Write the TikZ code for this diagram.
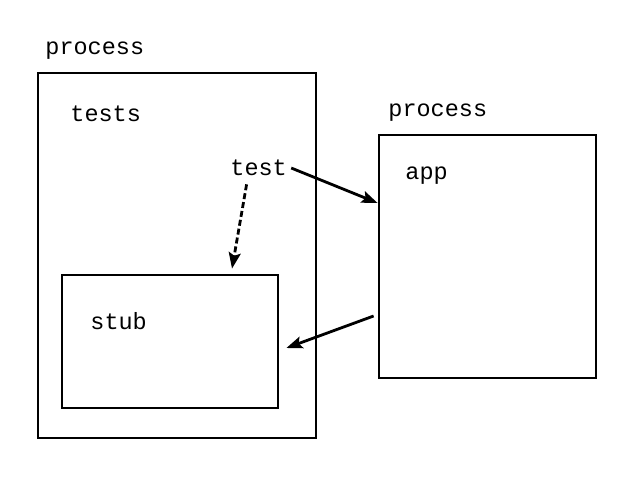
\documentclass[tikz,border=0pt]{standalone}
\usepackage{fontspec}
\setmonofont{Liberation Mono}
\usetikzlibrary{positioning, arrows.meta}

\begin{document}
\begin{tikzpicture}[x=1pt,y=-1pt,>={Stealth[length=16pt,width=12pt,inset=3pt]},line width=2.8pt,
	box/.style={draw, rectangle, inner sep=0pt},
	txt/.style={anchor=west, inner sep=0pt, font=\ttfamily\fontsize{23.5}{25}\selectfont}]
		\useasboundingbox (0,0) rectangle (640,480);
		\node[box, minimum width=278, minimum height=365	] (PROC_TESTS) 	at (177,255.5) 	{};
		\node[box, minimum width=216, minimum height=133	] (STUB) 		at (170,341.5) 	{};
		\node[box, minimum width=217, minimum height=243	] (APP) 		at (487.5,256.5) {};

		\node[txt] (PROC_TESTS_LBL) at (44,51) 	{process};
		\node[txt] (TESTS_LBL) 		at (69,114) {tests};
		\node[txt] (TEST) 			at (229,168) {test};
		\node[txt] (STUB_LBL) 		at (89,321) {stub};
		\node[txt] (PROC_APP_LBL) 	at (387,113) {process};
		\node[txt] (APP_LBL) 		at (404,176) {app};

		\draw	([xshift=3pt]TEST.east)					edge[->				]	([yshift=53.5pt]APP.west)
				([xshift=-12pt,yshift=-7pt]TEST.south)	edge[->, dash pattern=on 6pt off 3pt]	([xshift=62pt,yshift=5pt]STUB.north)
				([xshift=-4pt,yshift=-59.5pt]APP.west)	edge[->				]	([xshift=7pt,yshift=-6.5pt]STUB.east)
				;
	\end{tikzpicture}
\end{document}
